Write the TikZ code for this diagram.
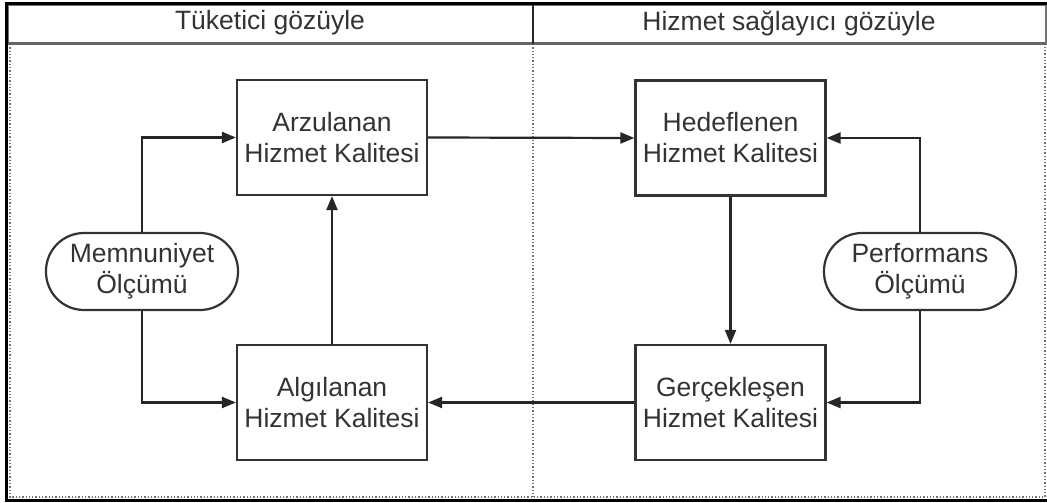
\documentclass[tikz,border=0pt]{standalone}
\usepackage{fontspec}
\setmainfont{Liberation Sans}
\usetikzlibrary{arrows.meta}
\begin{document}
\begin{tikzpicture}[x=1pt,y=-1pt,
  txt/.style={font=\fontsize{26.5}{31}\selectfont, text=black!80, align=center},
  box/.style={txt, draw=black!80, line width=2.2pt, minimum width=190pt, minimum height=115pt, inner sep=0pt, fill=white},
  pill/.style={box, rounded corners=38pt, minimum width=192pt, minimum height=77pt},
  conn/.style={line width=2.2pt, draw=black!85, -{Triangle[length=14pt,width=11pt]}},
  lane/.style={draw=black!55, line width=1.3pt, dotted},
  frame/.style={draw=black, line width=3.5pt}]
\useasboundingbox (0,0) rectangle (1047,503);
\fill[white] (0,0) rectangle (1047,503);
% lanes
\draw[lane] (10,44) -- (10,497) -- (1045,497) -- (1045,44);
\draw[lane] (533,44) -- (533,497);
% header
\draw[draw=black!55, line width=1.2pt] (8,5) rectangle (1046,44);
\draw[draw=black!60, line width=2.2pt] (8,43.5) -- (1046,43.5);
\draw[draw=black!85, line width=1.6pt] (533,5) -- (533,44);
\node[txt] (h1) at (270,23) {Tüketici gözüyle};
\node[txt] (h2) at (789,23) {Hizmet sağlayıcı gözüyle};
% outer frame
\draw[frame] (1047,3.5) -- (6.5,3.5) -- (6.5,500.5) -- (1047,500.5);
% nodes
\node[box] (arz) at (332,137.5) {Arzulanan\\Hizmet Kalitesi};
\node[box] (hed) at (730.5,138) {Hedeflenen\\Hizmet Kalitesi};
\node[box] (alg) at (332,402.5) {Algılanan\\Hizmet Kalitesi};
\node[box] (ger) at (730.5,402.5) {Gerçekleşen\\Hizmet Kalitesi};
\node[pill] (mem) at (142,271.5) {Memnuniyet\\Ölçümü};
\node[pill] (perf) at (920,271.5) {Performans\\Ölçümü};
% connectors
\draw[conn] (mem.north) |- (arz.west);
\draw[conn] (mem.south) |- (alg.west);
\draw[conn] (arz.east) -- (hed.west);
\draw[conn] (alg.north) -- (arz.south);
\draw[conn] (hed.south) -- (ger.north);
\draw[conn] (ger.west) -- (alg.east);
\draw[conn] (perf.north) |- (hed.east);
\draw[conn] (perf.south) |- (ger.east);
\end{tikzpicture}
\end{document}
